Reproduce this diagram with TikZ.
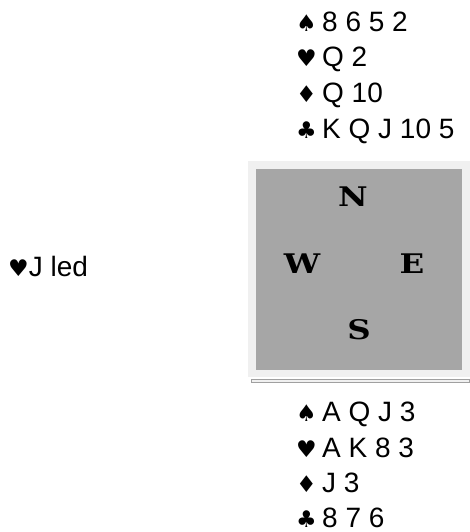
\documentclass[tikz,border=0pt]{standalone}
\usepackage{fontspec}
\setmainfont{Liberation Sans}
\newfontfamily\suitfont{DejaVu Sans}
\newfontfamily\compassfont[FakeStretch=1.2]{DejaVu Serif}
\definecolor{panelout}{HTML}{F0F0F0}
\definecolor{panelin}{HTML}{A6A6A6}
\definecolor{shadowline}{HTML}{A0A0A0}
\newcommand{\suitsym}[1]{\makebox[26pt][l]{\suitfont\fontsize{23}{23}\selectfont #1}}
\begin{document}
\begin{tikzpicture}[x=1pt,y=-1pt,
  handline/.style={anchor=base west, inner sep=0pt, font=\fontsize{28}{30}\selectfont},
  compass/.style={inner sep=0pt, font=\compassfont\bfseries\fontsize{27}{27}\selectfont}]
\useasboundingbox (0,0) rectangle (470,532);
% table box
\fill[panelout] (248,161) rectangle (470,377);
\fill[panelin] (256,169) rectangle (462,370);
\draw[shadowline, fill=panelout, line width=0.8pt] (251,379.5) rectangle (469,382.5);
% compass letters
\node[compass] (N) at (353,197) {N};
\node[compass] (W) at (302,264) {W};
\node[compass] (E) at (412,264) {E};
\node[compass] (S) at (359,330) {S};
% north hand
\node[handline] (n1) at (296,31.5) {\suitsym{♠}8 6 5 2};
\node[handline] (n2) at (296,67) {\suitsym{♥}Q 2};
\node[handline] (n3) at (296,102.5) {\suitsym{♦}Q 10};
\node[handline] (n4) at (296,138) {\suitsym{♣}K Q J 10 5};
% south hand
\node[handline] (s1) at (296,421.5) {\suitsym{♠}A Q J 3};
\node[handline] (s2) at (296,457) {\suitsym{♥}A K 8 3};
\node[handline] (s3) at (296,492.5) {\suitsym{♦}J 3};
\node[handline] (s4) at (296,527.5) {\suitsym{♣}8 7 6};
% lead
\node[handline] (lead) at (8,276) {{\suitfont\fontsize{23}{23}\selectfont ♥}J led};
\end{tikzpicture}
\end{document}
